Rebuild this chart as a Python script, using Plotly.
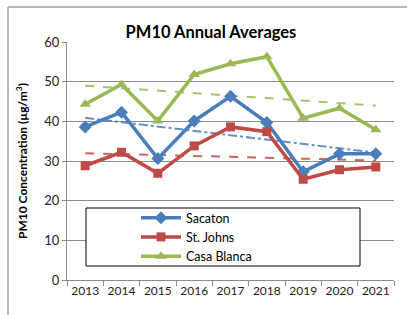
import numpy as np
import plotly.graph_objects as go

years = ["2013", "2014", "2015", "2016", "2017", "2018", "2019", "2020", "2021"]
sacaton = [38.6, 42.3, 30.6, 40.1, 46.3, 39.7, 27.3, 31.8, 31.8]
st_johns = [28.8, 32.2, 26.9, 33.8, 38.6, 37.4, 25.4, 27.8, 28.5]
casa_blanca = [44.3, 49.3, 40.1, 51.8, 54.5, 56.3, 40.8, 43.3, 37.9]

series = [
    ("Sacaton", sacaton, "#4A7EBB", "diamond", 10, "dashdot"),
    ("St. Johns", st_johns, "#BE4B48", "square", 9, "dash"),
    ("Casa Blanca", casa_blanca, "#98B954", "triangle-up", 10, "dash"),
]

FONT = "Lato"
fig = go.Figure()
idx = np.arange(len(years))
# trendlines (linear fit, like Excel)
for name, vals, color, sym, sz, dash in series:
    m, b = np.polyfit(idx, vals, 1)
    fig.add_trace(go.Scatter(x=years, y=m * idx + b, mode="lines",
                             line=dict(color=color, width=2, dash=dash),
                             opacity=0.85, showlegend=False, hoverinfo="skip"))
for name, vals, color, sym, sz, dash in series:
    fig.add_trace(go.Scatter(x=years, y=vals, mode="lines+markers", name=name,
                             line=dict(color=color, width=3.5),
                             marker=dict(symbol=sym, size=sz, color=color)))

W, H = 407, 315
L, R, T, B = 67, 394, 42, 280
pw, ph = R - L, B - T
def px(x): return (x - L) / pw
def py(y): return (B - y) / ph

shapes = [
    # outer chart frame (top + left)
    dict(type="line", xref="paper", yref="paper", x0=px(8), x1=px(407), y0=py(7), y1=py(7),
         line=dict(color="#A0A0A0", width=1.5)),
    dict(type="line", xref="paper", yref="paper", x0=px(8), x1=px(8), y0=py(7), y1=py(315),
         line=dict(color="#A0A0A0", width=1.5)),
    # legend box
    dict(type="rect", xref="paper", yref="paper", x0=px(86), x1=px(360), y0=py(266), y1=py(208),
         line=dict(color="black", width=1), fillcolor="white", layer="above"),
]

fig.update_layout(
    width=W, height=H,
    margin=dict(l=L, r=W - R, t=T, b=H - B),
    paper_bgcolor="white", plot_bgcolor="white",
    font=dict(family=FONT, size=12, color="#222222"),
    title=dict(text="<b>PM10 Annual Averages</b>", x=211 / W, xanchor="center",
               y=1 - 32 / H, yanchor="middle", yref="container",
               font=dict(family=FONT, size=16.5, color="black")),
    shapes=shapes,
    showlegend=True,
    legend=dict(x=px(136), y=py(203), xanchor="left", yanchor="top",
                bgcolor="rgba(0,0,0,0)", borderwidth=0, tracegroupgap=0,
                font=dict(family=FONT, size=12.5, color="black"), itemwidth=40),
    xaxis=dict(type="category", showgrid=False, showline=True, linecolor="#8C8C8C",
               ticks="outside", tickson="boundaries", ticklen=5, tickcolor="#8C8C8C",
               tickangle=0, tickfont=dict(size=12, color="#222222"), range=[-0.5, 8.5]),
    yaxis=dict(range=[0, 60], dtick=10, showgrid=True, gridcolor="#8C8C8C", gridwidth=1,
               showline=True, linecolor="#8C8C8C", ticks="outside", ticklen=4,
               tickcolor="#8C8C8C", zeroline=False, tickfont=dict(size=13, color="#222222"),
               title=dict(text="<b>PM10 Concentration (µg/m<sup>3</sup>)</b>",
                          font=dict(family=FONT, size=12, color="black"), standoff=14)),
)

fig.write_html("out.html", config={"displayModeBar": False},
               post_script="document.body.style.margin='0';")
